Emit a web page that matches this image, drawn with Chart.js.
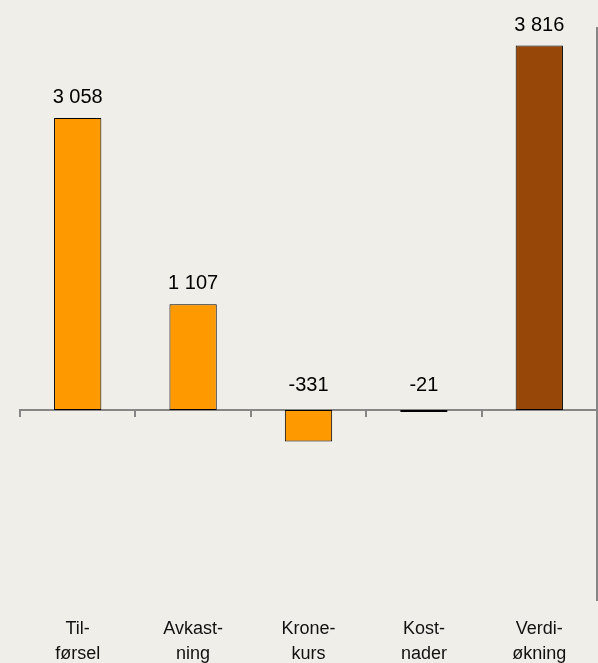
<!DOCTYPE html>
<html>
<head>
<meta charset="utf-8">
<script src="https://cdn.jsdelivr.net/npm/chart.js@4/dist/chart.umd.min.js"></script>
<style>
  html, body { margin: 0; padding: 0; background: #EFEEE8; }
  #chart { display: block; background: #EFEEE8; }
</style>
</head>
<body>
<canvas id="chart" width="598" height="663"></canvas>
<script>
// chart data
const categories = [["Til-", "førsel"], ["Avkast-", "ning"], ["Krone-", "kurs"], ["Kost-", "nader"], ["Verdi-", "økning"]];
const values = [3058, 1107, -331, -21, 3816];
const barColors = ["#FF9900", "#FF9900", "#FF9900", "#FF9900", "#974707"];

const yMin = -2000;
const yMax = 4000;

const fontFamily = "'Liberation Sans', Arial, sans-serif";

function formatNumber(v) {
    // thousands separated by a space, Norwegian style
    const s = Math.abs(v).toString().replace(/\B(?=(\d{3})+(?!\d))/g, " ");
    return (v < 0 ? "-" : "") + s;
}

// value labels above each bar (negative ones sit above the zero line)
const valueLabels = {
    id: "valueLabels",
    afterDatasetsDraw(chart) {
        const ctx = chart.ctx;
        const meta = chart.getDatasetMeta(0);
        const zeroY = chart.scales.y.getPixelForValue(0);
        ctx.save();
        ctx.font = "20px " + fontFamily;
        ctx.fillStyle = "#000";
        ctx.textAlign = "center";
        ctx.textBaseline = "alphabetic";
        meta.data.forEach((bar, i) => {
            const v = values[i];
            const y = v >= 0 ? bar.y - 15 : zeroY - 19;
            ctx.fillText(formatNumber(v), bar.x, y);
        });
        ctx.restore();
    }
};

const ctx = document.getElementById("chart").getContext("2d");
const chart = new Chart(ctx, {
    type: "bar",
    data: {
        labels: categories,
        datasets: [{
            data: values,
            backgroundColor: barColors,
            borderColor: "#000",
            borderWidth: 1,
            borderSkipped: false,
            barPercentage: 0.41,
            categoryPercentage: 1.0
        }]
    },
    options: {
        responsive: false,
        animation: false,
        layout: { padding: { top: 28, left: 20, right: 1, bottom: -20 } },
        plugins: {
            legend: { display: false },
            tooltip: { enabled: false }
        },
        scales: {
            x: {
                type: "category",
                offset: true,
                grid: { display: false, drawTicks: false },
                border: { display: false },
                ticks: {
                    color: "#111",
                    padding: 16,
                    maxRotation: 0,
                    autoSkip: false,
                    font: { family: fontFamily, size: 18, lineHeight: 1.39 }
                }
            },
            // axis line through zero with tick marks between categories
            x2: {
                type: "category",
                position: { y: 0 },
                offset: true,
                grid: {
                    display: true,
                    offset: true,
                    drawOnChartArea: false,
                    drawTicks: true,
                    tickLength: 6,
                    color: "#868686",
                    lineWidth: 2
                },
                border: { display: true, color: "#868686", width: 2 },
                ticks: { display: false }
            },
            y: {
                position: "right",
                min: yMin,
                max: yMax,
                grid: { display: false, drawTicks: false },
                border: { display: true, color: "#868686", width: 2 },
                ticks: { display: false }
            }
        }
    },
    plugins: [valueLabels]
});
</script>
</body>
</html>
